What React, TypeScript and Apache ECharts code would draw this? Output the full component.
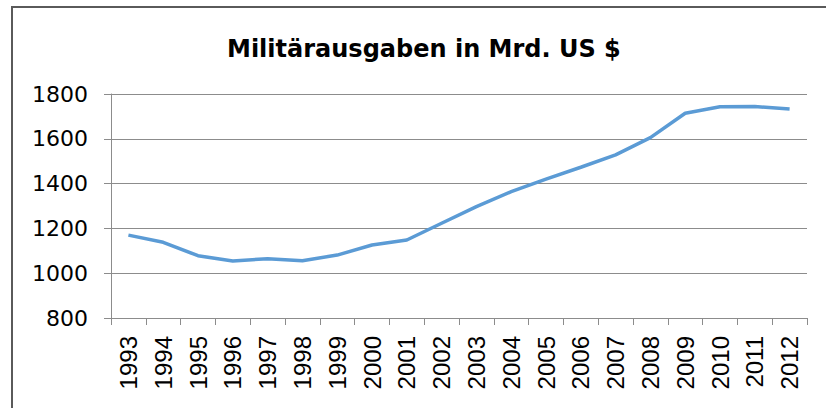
import React, { useEffect, useRef } from "react";
import * as echarts from "echarts";

const titleText = "Militärausgaben in Mrd. US $";
const years = [
  "1993", "1994", "1995", "1996", "1997", "1998", "1999", "2000", "2001", "2002",
  "2003", "2004", "2005", "2006", "2007", "2008", "2009", "2010", "2011", "2012",
];
const spending = [
  1170, 1138, 1078, 1054, 1065, 1056, 1081, 1126, 1148, 1223,
  1297, 1364, 1420, 1473, 1528, 1605, 1714, 1743, 1744, 1733,
];
const yMin = 800;
const yMax = 1800;
const yStep = 200;

export default function App() {
  const ref = useRef<HTMLDivElement>(null);
  useEffect(() => {
    if (!ref.current) return;
    const chart = echarts.init(ref.current, null, { renderer: "svg" });
    chart.setOption({
      animation: false,
      backgroundColor: "#ffffff",
      title: {
        text: titleText,
        left: 222,
        top: 32,
        textStyle: {
          fontFamily: "DejaVu Sans",
          fontWeight: "bold",
          fontSize: 24,
          color: "#000000",
        },
      },
      graphic: [
        {
          type: "rect",
          shape: { x: 12, y: 7, width: 840, height: 440 },
          style: { fill: "none", stroke: "#5a5a5a", lineWidth: 2 },
          silent: true,
        },
      ],
      grid: { left: 111, top: 94, right: 19, bottom: 90 },
      xAxis: {
        type: "category",
        data: years,
        boundaryGap: true,
        axisLine: { show: true, lineStyle: { color: "#8c8c8c", width: 1 } },
        axisTick: { show: true, length: 7, alignWithLabel: false, lineStyle: { color: "#8c8c8c" } },
        axisLabel: {
          rotate: 90,
          interval: 0,
          margin: 18,
          fontFamily: "Liberation Sans",
          fontSize: 24,
          color: "#000000",
        },
        splitLine: { show: false },
      },
      yAxis: {
        type: "value",
        min: yMin,
        max: yMax,
        interval: yStep,
        axisLine: { show: true, lineStyle: { color: "#8c8c8c", width: 1 } },
        axisTick: { show: true, length: 7, lineStyle: { color: "#8c8c8c" } },
        axisLabel: {
          margin: 23,
          fontFamily: "DejaVu Sans",
          fontSize: 22,
          color: "#000000",
          formatter: (v: number) => String(v),
        },
        splitLine: { show: true, lineStyle: { color: "#8c8c8c", width: 1 } },
      },
      series: [
        {
          type: "line",
          data: spending,
          symbol: "none",
          smooth: false,
          lineStyle: { color: "#5b9bd5", width: 3.5 },
          itemStyle: { color: "#5b9bd5" },
        },
      ],
    });
    return () => chart.dispose();
  }, []);
  return (
    <div
      ref={ref}
      style={{ position: "fixed", left: 0, top: 0, width: 826, height: 408 }}
    />
  );
}
